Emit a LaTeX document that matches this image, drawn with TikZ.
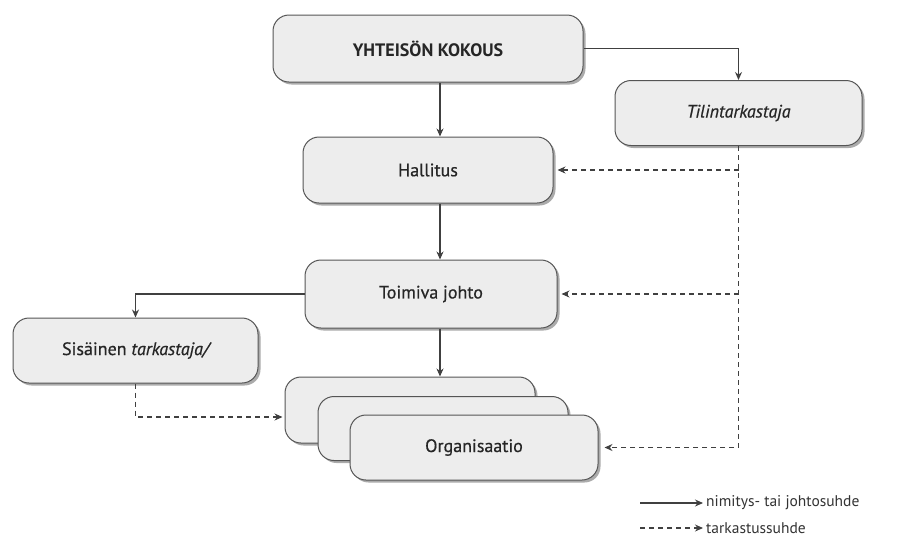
\documentclass[tikz,border=0pt]{standalone}
\usepackage{fontspec}
\setmainfont{PT Sans}
\newfontfamily\labelfont[FakeBold=0.6]{PT Sans}
\usetikzlibrary{arrows.meta,shadows,positioning}
\definecolor{boxfill}{HTML}{EDEDED}
\definecolor{boxline}{HTML}{555555}
\definecolor{conn}{HTML}{404040}
\tikzset{
  orgbox/.style={draw=boxline, line width=1pt, fill=boxfill, rounded corners=16pt,
    drop shadow={shadow xshift=2.5pt, shadow yshift=-2.5pt, fill=black!55, opacity=0.6},
    font=\labelfont\fontsize{18}{20}\selectfont, text=black!85, inner sep=0pt},
  solidarrow/.style={draw=conn, line width=1.1pt, -{Stealth[length=8pt,width=7pt]}},
  dasharrow/.style={draw=conn, line width=1.1pt, dash pattern=on 5pt off 4pt, -{Stealth[length=8pt,width=7pt]}},
  legtext/.style={anchor=west, font=\fontsize{15.5}{17}\selectfont, text=black!80, inner sep=0pt},
}
\begin{document}
\begin{tikzpicture}[x=1pt,y=-1pt]
\useasboundingbox (0,0) rectangle (897,542);
% boxes
\node[orgbox, minimum width=310pt, minimum height=67pt, font=\fontsize{18}{20}\selectfont\bfseries] (kok) at (428,48.5) {YHTEISÖN KOKOUS};
\node[orgbox, minimum width=247pt, minimum height=65pt] (tili) at (738.5,113) {\itshape Tilintarkastaja};
\node[orgbox, minimum width=250pt, minimum height=66pt] (hal) at (428,170) {Hallitus};
\node[orgbox, minimum width=252pt, minimum height=68pt] (toi) at (431,294) {Toimiva johto};
\node[orgbox, minimum width=245pt, minimum height=65pt] (sis) at (135.5,350.5) {Sisäinen \itshape tarkastaja/};
\node[orgbox, minimum width=250pt, minimum height=66pt] (org1) at (410,410) {};
\node[orgbox, minimum width=250pt, minimum height=64pt] (org2) at (443,428.5) {};
\node[orgbox, minimum width=248pt, minimum height=65pt] (org3) at (474,447.5) {Organisaatio};
% solid connectors
\coordinate (col) at (440,0);
\draw[solidarrow] (kok.south -| col) -- (hal.north -| col);
\draw[solidarrow] (hal.south -| col) -- (toi.north -| col);
\draw[solidarrow] (toi.south -| col) -- (org1.north -| col);
\draw[solidarrow] (kok.east) -| (tili.north);
\draw[solidarrow] (toi.west) -| (sis.north);
% dashed connectors
\coordinate (vb) at (tili.south |- org3.east);
\draw[dasharrow] (tili.south) -- (vb) -- ([xshift=6pt]org3.east);
\draw[dasharrow] (tili.south |- hal.east) -- ([xshift=4pt]hal.east);
\draw[dasharrow] (tili.south |- toi.east) -- ([xshift=4pt]toi.east);
\draw[dasharrow] (sis.south) |- ([xshift=-2pt,yshift=-7pt]org1.west);
% legend
\node[legtext] (leg1) at (706,503) {nimitys- tai johtosuhde};
\node[legtext] (leg2) at (706,528) {tarkastussuhde};
\draw[solidarrow] ([xshift=-66pt]leg1.west) -- ([xshift=-3pt]leg1.west);
\draw[dasharrow] ([xshift=-66pt]leg2.west) -- ([xshift=-3pt]leg2.west);
\end{tikzpicture}
\end{document}
